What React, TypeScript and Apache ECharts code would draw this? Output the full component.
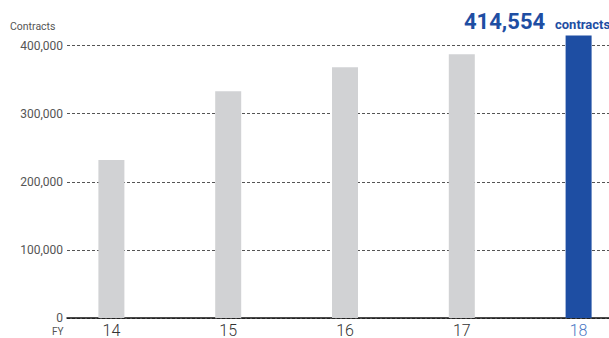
import React, { useEffect, useRef } from "react";
import * as echarts from "echarts";

const categories = ["14", "15", "16", "17", "18"];
const contracts = [232000, 333000, 368000, 387000, 414554];
const yTicks = [0, 100000, 200000, 300000, 400000];
const highlightIndex = 4;
const headline = "414,554";
const headlineUnit = "contracts";

const GRAY = "#d1d2d4";
const BLUE = "#1e4ea3";
const FONT = "Roboto, 'DejaVu Sans', sans-serif";

export default function App() {
  const ref = useRef<HTMLDivElement>(null);
  useEffect(() => {
    if (!ref.current) return;
    const chart = echarts.init(ref.current, null, { renderer: "svg" });
    const yMax = yTicks[yTicks.length - 1];
    const interval = yTicks[1] - yTicks[0];
    chart.setOption({
      animation: false,
      grid: [
        { left: 67, width: 560, top: 45.5, height: 272.5, outerBoundsMode: "none" },
        { left: 53, width: 584, top: 45.5, height: 272.5, outerBoundsMode: "none" },
      ],
      xAxis: [
        {
          gridIndex: 0,
          type: "value",
          min: 0,
          max: 1,
          axisLine: { show: true, onZero: false, lineStyle: { color: "#111", width: 1.5 } },
          axisTick: { show: false },
          axisLabel: { show: false },
          splitLine: { show: false },
        },
        {
          gridIndex: 1,
          type: "category",
          data: categories.map((c, i) =>
            i === highlightIndex
              ? { value: c, textStyle: { color: "#4a78c4" } }
              : c
          ),
          axisLine: { show: false },
          axisTick: { show: false },
          axisLabel: {
            margin: 4,
            fontSize: 16,
            fontFamily: FONT,
            fontWeight: 300,
            color: "#333",
          },
        },
      ],
      yAxis: [
        {
          gridIndex: 0,
          type: "value",
          min: 0,
          max: yMax,
          interval,
          axisLine: { show: false },
          axisTick: { show: false },
          axisLabel: {
            margin: 4,
            fontSize: 12,
            fontFamily: FONT,
            color: "#555",
            formatter: (v: number) => v.toLocaleString("en-US"),
          },
          splitLine: {
            show: true,
            lineStyle: { color: "#555", type: [3, 2], width: 1 },
          },
        },
        {
          gridIndex: 1,
          type: "value",
          min: 0,
          max: yMax,
          interval,
          show: false,
        },
      ],
      series: [
        {
          type: "bar",
          xAxisIndex: 1,
          yAxisIndex: 1,
          barWidth: 26,
          clip: false,
          z: 5,
          data: contracts.map((v, i) => ({
            value: v,
            itemStyle: { color: i === highlightIndex ? BLUE : GRAY },
          })),
        },
      ],
      graphic: [
        {
          type: "text",
          left: 10,
          top: 21,
          style: { text: "Contracts", fontSize: 10.5, fontFamily: FONT, fill: "#555" },
        },
        {
          type: "text",
          left: 52,
          top: 326,
          style: { text: "FY", fontSize: 10, fontFamily: FONT, fill: "#555" },
        },
        {
          type: "text",
          x: 464,
          y: 32,
          style: {
            text: headline,
            fontSize: 22,
            fontWeight: "bold",
            fontFamily: FONT,
            fill: BLUE,
            verticalAlign: "bottom",
          },
        },
        {
          type: "text",
          x: 555,
          y: 31,
          style: {
            text: headlineUnit,
            fontSize: 13,
            fontWeight: "bold",
            fontFamily: FONT,
            fill: BLUE,
            verticalAlign: "bottom",
          },
        },
      ],
    });
    return () => chart.dispose();
  }, []);
  return <div ref={ref} style={{ width: 609, height: 338, position: "absolute", left: 0, top: 0 }} />;
}
